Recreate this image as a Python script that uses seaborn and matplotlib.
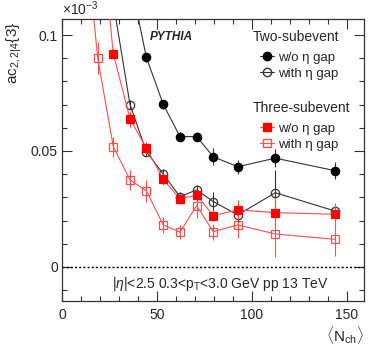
import numpy as np
import pandas as pd
import matplotlib
matplotlib.use("Agg")
import matplotlib.pyplot as plt
from matplotlib.lines import Line2D
from matplotlib.ticker import MultipleLocator
import seaborn as sns

### values in units of 1e-3
nch_2nogap = [36, 44.4, 53.3, 62.1, 70.9, 79.6, 92.5, 112.3, 143.7]
ac_2nogap = [0.124, 0.0904, 0.0701, 0.0562, 0.0562, 0.0475, 0.0432, 0.0469, 0.0415]
err_2nogap = [0.004, 0.002, 0.002, 0.002, 0.002, 0.0036, 0.003, 0.004, 0.0038]

nch_2gap = [27, 35.8, 44.4, 53.3, 62.1, 70.9, 79.6, 92.5, 112.3, 143.7]
ac_2gap = [0.114, 0.0700, 0.0497, 0.0401, 0.0303, 0.0332, 0.0282, 0.0224, 0.0320, 0.0241]
err_2gap = [0.005, 0.002, 0.002, 0.002, 0.002, 0.002, 0.004, 0.003, 0.010, 0.002]

nch_3nogap = [18.8, 27, 35.8, 44.4, 53.3, 62.1, 70.9, 79.6, 92.5, 112.3, 143.7]
ac_3nogap = [0.161, 0.0919, 0.0638, 0.0512, 0.0378, 0.0293, 0.0310, 0.0221, 0.0246, 0.0234, 0.0227]
err_3nogap = [0.006, 0.002, 0.0036, 0.0025, 0.0025, 0.002, 0.002, 0.0025, 0.0043, 0.0065, 0.005]

nch_3gap = [11, 18.8, 27, 35.8, 44.4, 53.3, 62.1, 70.9, 79.6, 92.5, 112.3, 143.7]
ac_3gap = [0.155, 0.0900, 0.0519, 0.0375, 0.0329, 0.0181, 0.0150, 0.0264, 0.0152, 0.0181, 0.0142, 0.0119]
err_3gap = [0.008, 0.0068, 0.0043, 0.0043, 0.0047, 0.0035, 0.003, 0.0055, 0.0035, 0.0057, 0.010, 0.007]

sns.set_style("ticks")
plt.rcParams['font.family'] = ['Liberation Sans', 'DejaVu Sans']
plt.rcParams['mathtext.fontset'] = 'custom'
plt.rcParams['mathtext.rm'] = 'Liberation Sans'
plt.rcParams['mathtext.it'] = 'Liberation Sans:italic'
plt.rcParams['mathtext.bf'] = 'Liberation Sans:bold'

fig = plt.figure(figsize=(3.74, 3.51), dpi=100)
ax = fig.add_axes([62/374, 1-301/351, 302/374, 282/351])

black = '#000000'
gray = '#333333'
red = '#ff0000'
lred = '#ff4d4d'

series = [
    (nch_2nogap, ac_2nogap, err_2nogap, gray, 'o', black, black, 6.0, 4),
    (nch_2gap, ac_2gap, err_2gap, gray, 'o', 'none', gray, 6.0, 3),
    (nch_3nogap, ac_3nogap, err_3nogap, lred, 's', red, red, 5.5, 3.5),
    (nch_3gap, ac_3gap, err_3gap, lred, 's', 'none', lred, 6.0, 2.5),
]

for x, y, e, lc, mk, mfc, mec, ms, z in series:
    df = pd.DataFrame({'Nch': x, 'ac': y, 'err': e})
    ax.errorbar(df['Nch'], df['ac'], yerr=df['err'], fmt='none', ecolor=lc,
                elinewidth=0.8, capsize=0, zorder=z)
    sns.lineplot(data=df, x='Nch', y='ac', ax=ax, color=lc, linewidth=0.8,
                 marker=mk, markersize=ms, markerfacecolor=mfc,
                 markeredgecolor=mec, markeredgewidth=0.9, zorder=z,
                 errorbar=None, legend=False)

ax.axhline(0, color='black', lw=1.0, ls=(0, (1.5, 1.5)), zorder=1)

ax.set_xlim(0, 159)
ax.set_ylim(-0.0147, 0.1069)
ax.set_xticks([0, 50, 100, 150])
ax.set_yticks([0, 0.05, 0.1])
ax.set_yticklabels(['0', '0.05', '0.1'])
ax.xaxis.set_minor_locator(MultipleLocator(10))
ax.yaxis.set_minor_locator(MultipleLocator(0.01))
ax.tick_params(which='both', direction='in', top=True, right=True,
               labelsize=10, width=0.8, color='#333333')
ax.tick_params(which='major', length=7)
ax.tick_params(which='minor', length=3.5)
ax.tick_params(axis='x', pad=5)
ax.tick_params(axis='y', pad=3)
for s in ax.spines.values():
    s.set_linewidth(0.9)
    s.set_color('#333333')

ax.set_xlabel(r'$\langle\mathrm{N}_{\mathrm{ch}}\rangle$', fontsize=11, loc='right')
ax.xaxis.set_label_coords(1.0, -0.08)
ax.set_ylabel(r'ac$_{2,2|4}${3}', fontsize=11, loc='top')
ax.yaxis.set_label_coords(-0.125, 0.99)

ax.text(0.0, 1.005, r'$\times$10$^{-3}$', transform=ax.transAxes,
        fontsize=10, ha='left', va='bottom')
ax.text(0.29, 0.935, 'PYTHIA', transform=ax.transAxes, fontsize=8.5,
        fontweight='bold', fontstyle='italic', ha='left', va='center')
ax.text(0.633, 0.935, 'Two-subevent', transform=ax.transAxes, fontsize=10,
        ha='left', va='center')
ax.text(0.633, 0.683, 'Three-subevent', transform=ax.transAxes, fontsize=10,
        ha='left', va='center')
ax.text(0.165, 0.06, r'|$\eta$|<2.5 0.3<p$_{\mathrm{T}}$<3.0 GeV pp 13 TeV',
        transform=ax.transAxes, fontsize=10, ha='left', va='center')

h1 = Line2D([], [], color=gray, lw=0.8, marker='o', ms=6, mfc=black, mec=black)
h2 = Line2D([], [], color=gray, lw=0.8, marker='o', ms=6, mfc='none', mec=gray)
h3 = Line2D([], [], color=lred, lw=0.8, marker='s', ms=5.5, mfc=red, mec=red)
h4 = Line2D([], [], color=lred, lw=0.8, marker='s', ms=6, mfc='none', mec=lred)
leg1 = ax.legend([h1, h2], ['w/o η gap', 'with η gap'], loc='upper left',
                 bbox_to_anchor=(0.655, 0.885), frameon=False, fontsize=9.5,
                 handlelength=1.1, handletextpad=0.3, labelspacing=0.3,
                 borderpad=0, borderaxespad=0)
ax.add_artist(leg1)
ax.legend([h3, h4], ['w/o η gap', 'with η gap'], loc='upper left',
          bbox_to_anchor=(0.655, 0.633), frameon=False, fontsize=9.5,
          handlelength=1.1, handletextpad=0.3, labelspacing=0.3,
          borderpad=0, borderaxespad=0)

fig.savefig('out.png', dpi=100)
